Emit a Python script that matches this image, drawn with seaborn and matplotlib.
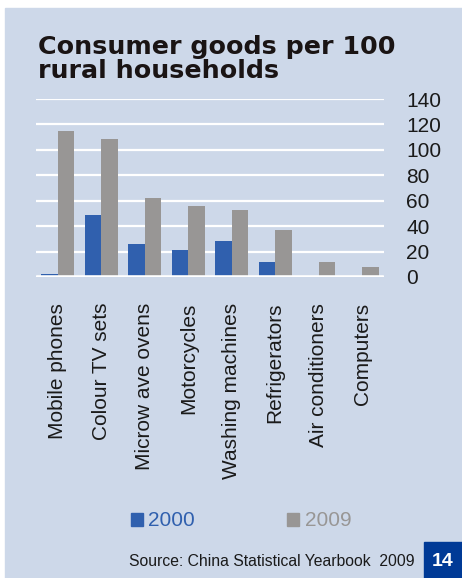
import seaborn as sns
import matplotlib.pyplot as plt
import matplotlib.patches as mpatches
import pandas as pd

# data
categories = ['Mobile phones', 'Colour TV sets', 'Microw ave ovens', 'Motorcycles',
              'Washing machines', 'Refrigerators', 'Air conditioners', 'Computers']
values_2000 = [2.6, 48.5, 26, 21.5, 28, 12, 0, 0]
values_2009 = [115, 108.5, 62, 56, 53, 37, 12, 7.5]
years = ['2000', '2009']
yticks = [0, 20, 40, 60, 80, 100, 120, 140]

PANEL = '#CDD8E9'
BLUE = '#3060AE'
GREY = '#989695'
DARK = '#003A96'

df = pd.DataFrame({
    'item': categories * 2,
    'year': ['2000'] * len(categories) + ['2009'] * len(categories),
    'value': values_2000 + values_2009,
})

sns.set_style('white')
plt.rcParams['font.family'] = ['Liberation Sans', 'DejaVu Sans']

W, H = 462, 578
fig = plt.figure(figsize=(W / 100, H / 100), dpi=100, facecolor='white')

# light blue panel behind everything
fig.patches.append(mpatches.Rectangle((5 / W, 0), 1 - 5 / W, 1 - 8 / H,
                                      transform=fig.transFigure,
                                      color=PANEL, zorder=-5))

ax = fig.add_axes([36 / W, 1 - 277 / H, (384 - 36) / W, (277 - 99) / H])
ax.set_facecolor('none')

palette = {'2000': BLUE, '2009': GREY}
sns.barplot(data=df, x='item', y='value', hue='year', palette=palette,
            width=0.75, errorbar=None, legend=False, ax=ax, zorder=3,
            saturation=1, linewidth=0)

ax.set_ylim(0, 140)
ax.set_xlim(-0.5, len(categories) - 0.5)
for v in yticks[1:]:
    ax.axhline(v, color='white', lw=1.6, zorder=1)
ax.axhline(0, color='white', lw=2.6, zorder=4, xmin=0.003, xmax=0.997)

ax.yaxis.tick_right()
ax.set_yticks(yticks)
ax.tick_params(axis='y', length=0, pad=16, labelsize=15, colors='#1a1a1a')
ax.tick_params(axis='x', length=0, pad=18.5, labelsize=15, colors='#1a1a1a')
ax.set_xticks(range(len(categories)))
ax.set_xticklabels(categories, rotation=90)
ax.set_xlabel('')
ax.set_ylabel('')
for s in ax.spines.values():
    s.set_visible(False)

fig.text(38 / W, 1 - 35 / H, 'Consumer goods per 100\nrural households',
         ha='left', va='top', fontsize=18.3, fontweight='bold',
         family='DejaVu Sans', color='#1a1414', linespacing=1.0)

handles = [mpatches.Patch(color=palette[y], label=y) for y in years]
leg = fig.legend(handles=handles, loc='center', ncol=2, frameon=False,
                 bbox_to_anchor=(241 / W, 1 - 521 / H), fontsize=15,
                 handlelength=0.6, handleheight=0.6, handletextpad=0.25,
                 columnspacing=4.4)
for t, y in zip(leg.get_texts(), years):
    t.set_color(palette[y])

fig.text(415 / W, 1 - 562 / H, 'Source: China Statistical Yearbook  2009',
         ha='right', va='center', fontsize=11.3, color='#1a1a1a')

fig.patches.append(mpatches.Rectangle((424 / W, 0), 1 - 424 / W, 36 / H,
                                      transform=fig.transFigure,
                                      color=DARK, zorder=1))
fig.text(443 / W, 1 - 562 / H, '14', ha='center', va='center', fontsize=14,
         fontweight='bold', color='white')

fig.savefig('out.png', dpi=100, facecolor=fig.get_facecolor())
